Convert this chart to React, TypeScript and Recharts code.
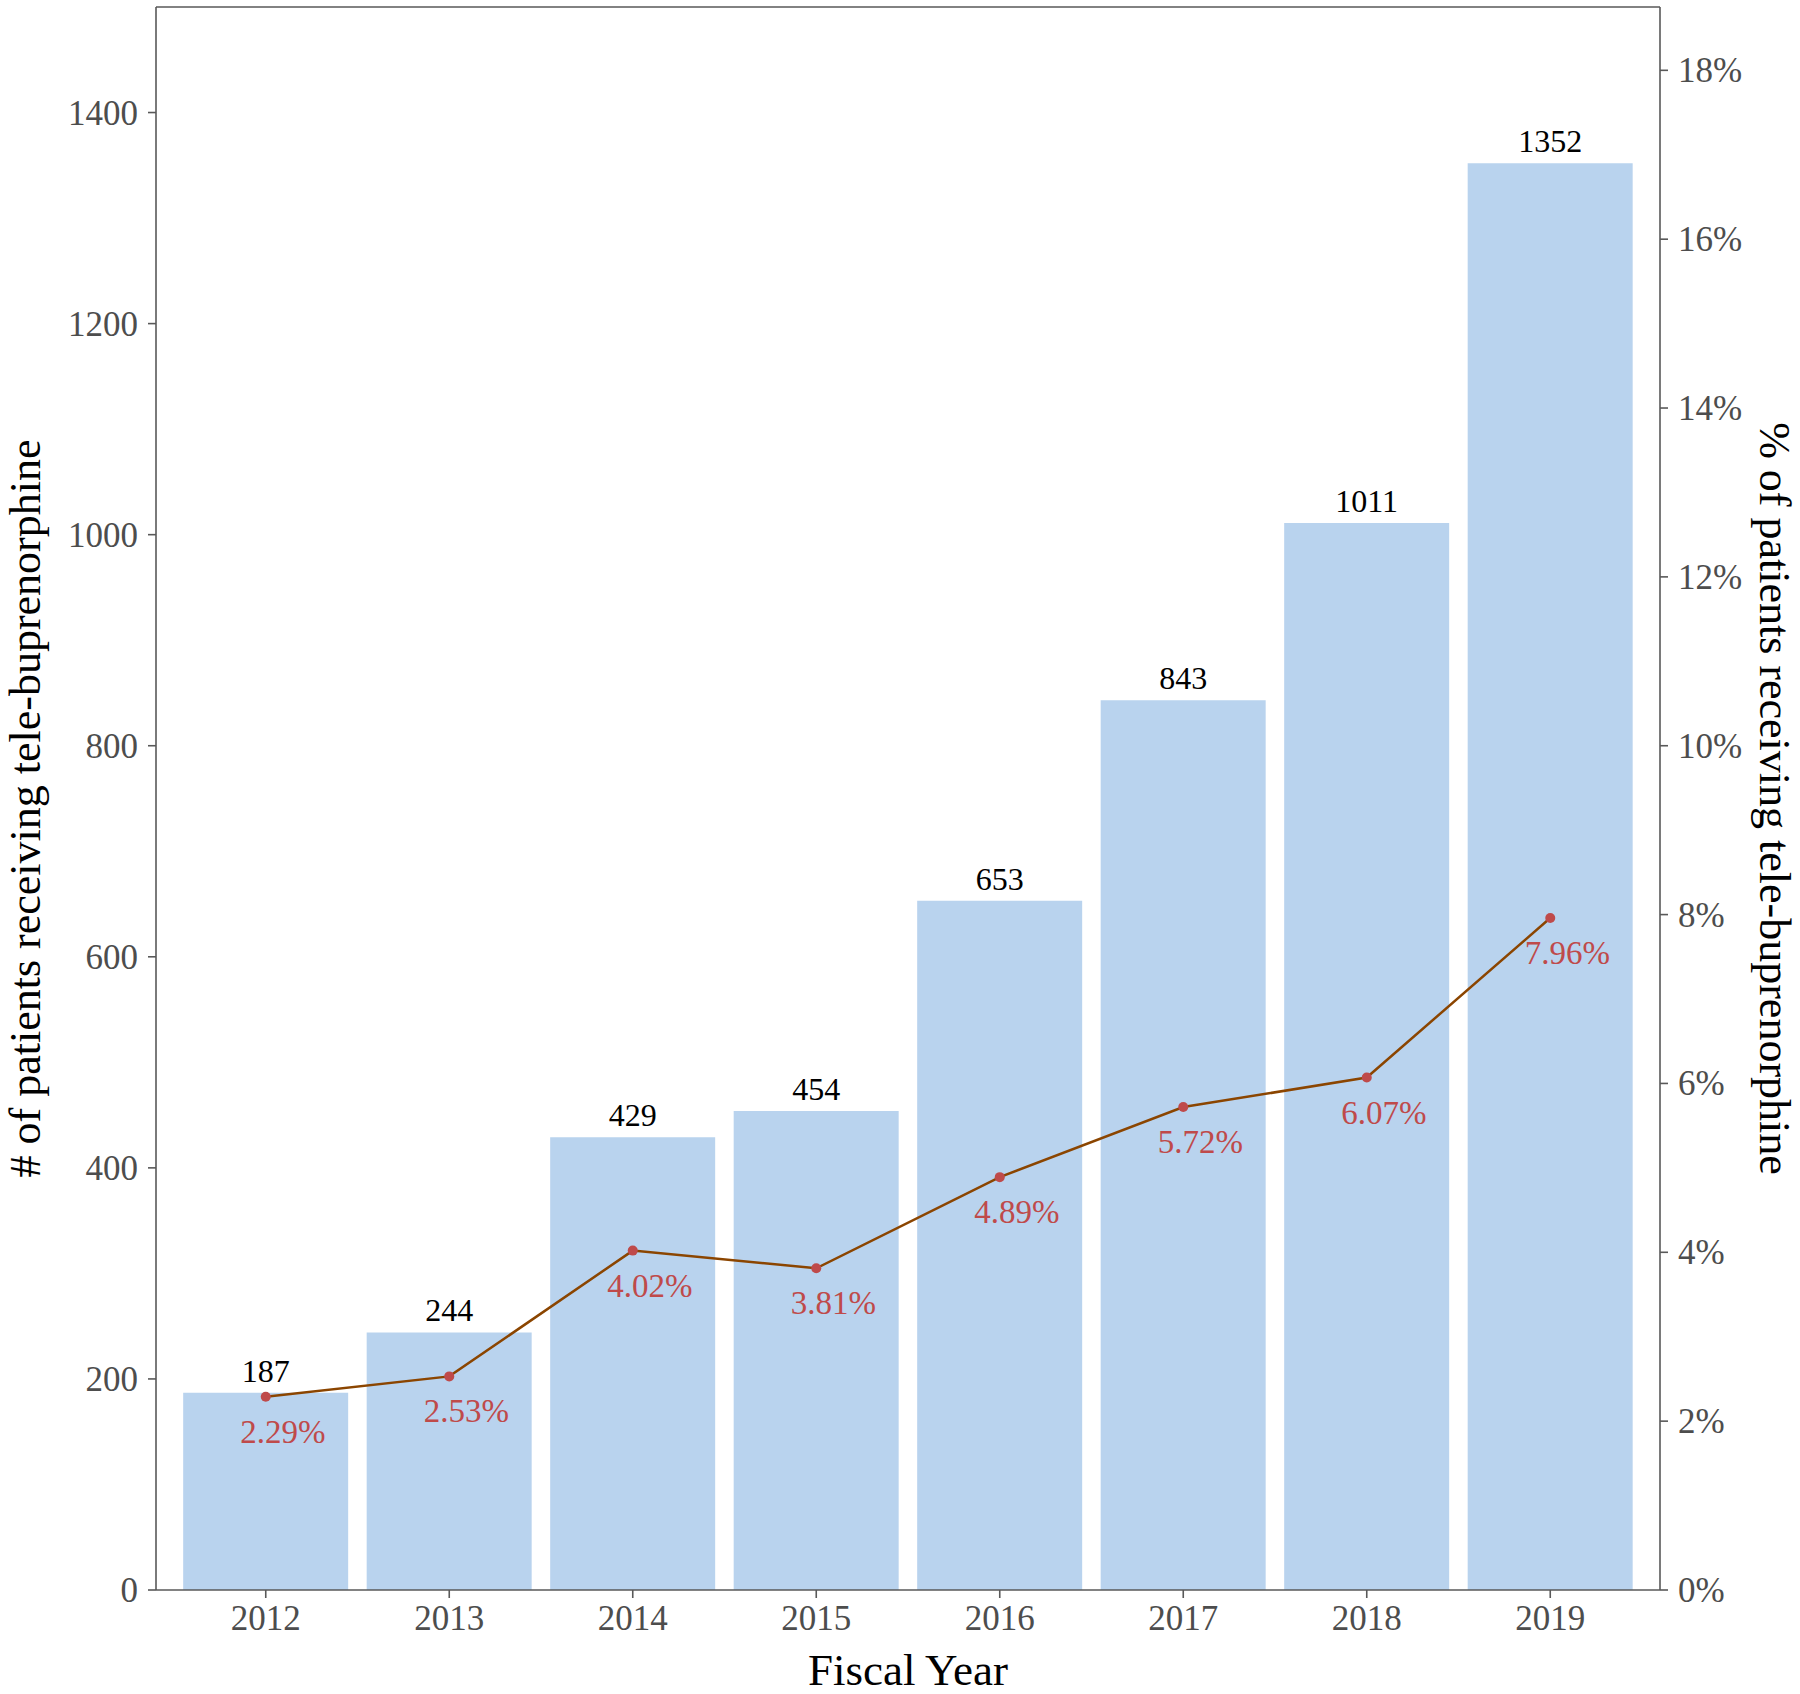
import { ComposedChart, Bar, Line, XAxis, YAxis, LabelList, ReferenceLine } from 'recharts';

const years = ['2012', '2013', '2014', '2015', '2016', '2017', '2018', '2019'];
const patients = [187, 244, 429, 454, 653, 843, 1011, 1352];
const percents = [2.29, 2.53, 4.02, 3.81, 4.89, 5.72, 6.07, 7.96];
const leftTicks = [0, 200, 400, 600, 800, 1000, 1200, 1400];
const rightTicks = [0, 2, 4, 6, 8, 10, 12, 14, 16, 18];

const data = years.map((year, i) => ({ year, patients: patients[i], pct: percents[i] }));

const FONT = '"Liberation Serif", "Times New Roman", serif';
const AXIS = '#595959';
const TICK_TEXT = '#4D4D4D';
const BAR = '#B9D3EE';
const LINE = '#8B4500';
const POINT = '#BF4A4A';

const XTick = ({ x, y, payload }: any) => (
  <text x={x} y={y + 32} textAnchor="middle" fontFamily={FONT} fontSize={35} fill={TICK_TEXT}>
    {payload.value}
  </text>
);

const LeftTick = ({ x, y, payload }: any) => (
  <text x={x - 10} y={y + 12} textAnchor="end" fontFamily={FONT} fontSize={35} fill={TICK_TEXT}>
    {payload.value}
  </text>
);

const RightTick = ({ x, y, payload }: any) => (
  <text x={x + 10} y={y + 12} textAnchor="start" fontFamily={FONT} fontSize={35} fill={TICK_TEXT}>
    {payload.value}%
  </text>
);

const CountLabel = ({ x, y, width, value }: any) => (
  <text x={x + width / 2} y={y - 11} textAnchor="middle" fontFamily={FONT} fontSize={32} fill="#000">
    {value}
  </text>
);

const PctLabel = ({ x, y, value }: any) => (
  <text x={x + 17} y={y + 46} textAnchor="middle" fontFamily={FONT} fontSize={33} fill={POINT}>
    {value.toFixed(2)}%
  </text>
);

const XTitle = ({ viewBox }: any) => (
  <text x={viewBox.x + viewBox.width / 2} y={viewBox.y + 95} textAnchor="middle" fontFamily={FONT} fontSize={45} fill="#000">
    Fiscal Year
  </text>
);

const LeftTitle = ({ viewBox }: any) => {
  const cx = 40;
  const cy = viewBox.y + viewBox.height / 2 + 10;
  return (
    <text x={cx} y={cy} transform={`rotate(-90, ${cx}, ${cy})`} textAnchor="middle" fontFamily={FONT} fontSize={44} fill="#000">
      # of patients receiving tele-buprenorphine
    </text>
  );
};

const RightTitle = ({ viewBox }: any) => {
  const cx = viewBox.x + 100;
  const cy = viewBox.y + viewBox.height / 2;
  return (
    <text x={cx} y={cy} transform={`rotate(90, ${cx}, ${cy})`} textAnchor="middle" fontFamily={FONT} fontSize={44} fill="#000">
      % of patients receiving tele-buprenorphine
    </text>
  );
};

export default function App() {
  return (
    <div style={{ width: 1800, height: 1694, background: '#fff' }}>
      <style>{`body{margin:0}`}</style>
      <ComposedChart
        width={1800}
        height={1694}
        data={data}
        margin={{ top: 7, right: 0, left: 0, bottom: 0 }}
        barCategoryGap="5%"
      >
        <XAxis
          dataKey="year"
          height={104}
          padding={{ left: 18, right: 18 }}
          stroke={AXIS}
          strokeWidth={1.6}
          tickSize={8}
          tickMargin={0}
          tick={<XTick />}
          tickLine={{ stroke: AXIS, strokeWidth: 1.6 }}
          label={<XTitle />}
        />
        <YAxis
          yAxisId="left"
          width={156}
          domain={[0, 1500]}
          ticks={leftTicks}
          allowDataOverflow
          stroke={AXIS}
          strokeWidth={1.6}
          tickSize={8}
          tickMargin={0}
          tick={<LeftTick />}
          tickLine={{ stroke: AXIS, strokeWidth: 1.6 }}
          label={<LeftTitle />}
        />
        <YAxis
          yAxisId="right"
          orientation="right"
          width={140}
          domain={[0, 18.75]}
          ticks={rightTicks}
          allowDataOverflow
          stroke={AXIS}
          strokeWidth={1.6}
          tickSize={8}
          tickMargin={0}
          tick={<RightTick />}
          tickLine={{ stroke: AXIS, strokeWidth: 1.6 }}
          label={<RightTitle />}
        />
        <ReferenceLine yAxisId="left" y={1500} stroke={AXIS} strokeWidth={1.6} />
        <Bar yAxisId="left" dataKey="patients" fill={BAR} isAnimationActive={false}>
          <LabelList dataKey="patients" content={<CountLabel />} />
        </Bar>
        <Line
          yAxisId="right"
          type="linear"
          dataKey="pct"
          stroke={LINE}
          strokeWidth={2.5}
          dot={{ r: 5, fill: POINT, stroke: 'none' }}
          isAnimationActive={false}
        >
          <LabelList dataKey="pct" content={<PctLabel />} />
        </Line>
      </ComposedChart>
    </div>
  );
}
